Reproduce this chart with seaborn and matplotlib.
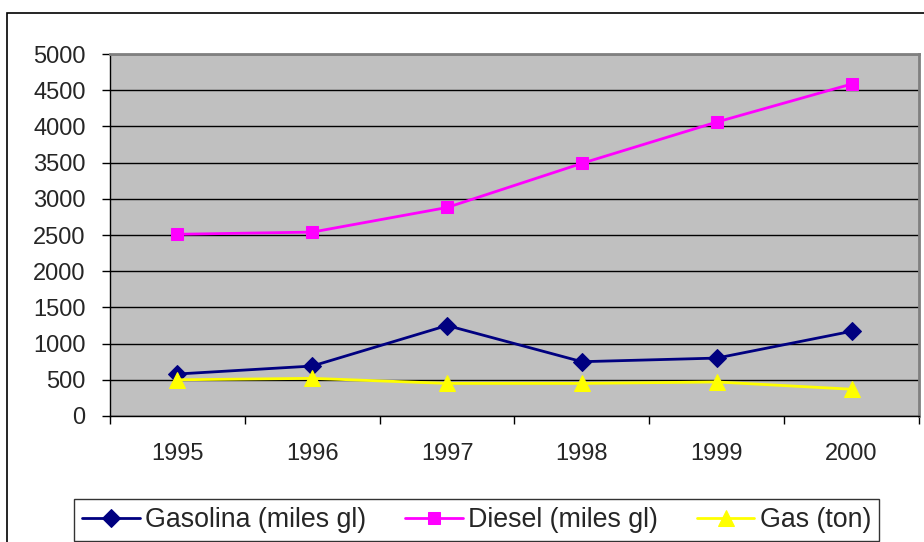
import matplotlib
matplotlib.use("Agg")
import matplotlib.pyplot as plt
import seaborn as sns
import pandas as pd
from matplotlib.patches import Rectangle

# values
years = ["1995", "1996", "1997", "1998", "1999", "2000"]
gasolina = [580, 690, 1250, 750, 800, 1170]
diesel = [2510, 2540, 2880, 3490, 4060, 4585]
gas = [500, 520, 450, 450, 470, 370]

series_names = ["Gasolina (miles gl)", "Diesel (miles gl)", "Gas (ton)"]
series_values = [gasolina, diesel, gas]
colors = ["#000080", "#FF00FF", "#FFFF00"]
markers = ["D", "s", "^"]
marker_sizes = [9, 9, 11]

sns.set_theme(style="white")
plt.rcParams["font.family"] = ["Liberation Sans", "DejaVu Sans"]

rows = []
for name, vals in zip(series_names, series_values):
    for i, v in enumerate(vals):
        rows.append({"pos": i, "year": years[i], "value": v, "series": name})
df = pd.DataFrame(rows)

W, H = 924, 542
fig = plt.figure(figsize=(W / 100, H / 100), dpi=100)
fig.patch.set_facecolor("white")

# outer chart border (runs off the right/bottom edge)
fig.patches.append(Rectangle((7 / W, -0.05), 1.1, (H - 13) / H + 0.05,
                             transform=fig.transFigure, fill=False,
                             edgecolor="black", linewidth=1.2))

ax = fig.add_axes([110 / W, (H - 416) / H, (919 - 110) / W, (416 - 54) / H])
ax.set_facecolor("#C0C0C0")

for name, color, mk, ms in zip(series_names, colors, markers, marker_sizes):
    sub = df[df["series"] == name]
    sns.lineplot(data=sub, x="pos", y="value", ax=ax, color=color, marker=mk,
                 markersize=ms, markeredgecolor=color, linewidth=2,
                 label=name, legend=False, zorder=3)

ax.set_xlim(-0.5, len(years) - 0.5)
ax.set_ylim(0, 5000)
ax.set_yticks(range(0, 5001, 500))
ax.yaxis.grid(True, color="black", linewidth=1)
ax.set_axisbelow(True)

ax.set_xticks([i - 0.5 for i in range(len(years) + 1)])
ax.set_xticklabels([])
ax.set_xticks(range(len(years)), minor=True)
ax.set_xticklabels(years, minor=True)
ax.tick_params(axis="x", which="major", length=6, width=1, color="black", direction="out", bottom=True)
ax.tick_params(axis="x", which="minor", length=0, pad=19.5, labelsize=17)
ax.tick_params(axis="y", length=6, width=1, color="black", direction="out", left=True, pad=11.5, labelsize=17)
ax.set_xlabel("")
ax.set_ylabel("")

for side in ["top", "right"]:
    ax.spines[side].set_color("#808080")
    ax.spines[side].set_linewidth(2)
for side in ["left", "bottom"]:
    ax.spines[side].set_color("black")
    ax.spines[side].set_linewidth(1)

handles, labels = ax.get_legend_handles_labels()
leg = fig.legend(handles, labels, loc="lower left", bbox_to_anchor=(74 / W, 1 / H),
                 ncol=3, fontsize=19.3, frameon=True, fancybox=False,
                 handlelength=2.15, handletextpad=0.2, columnspacing=1.45,
                 borderpad=0.3, borderaxespad=0)
leg.get_frame().set_edgecolor("black")
leg.get_frame().set_linewidth(1)

fig.savefig("out.png", dpi=100)
